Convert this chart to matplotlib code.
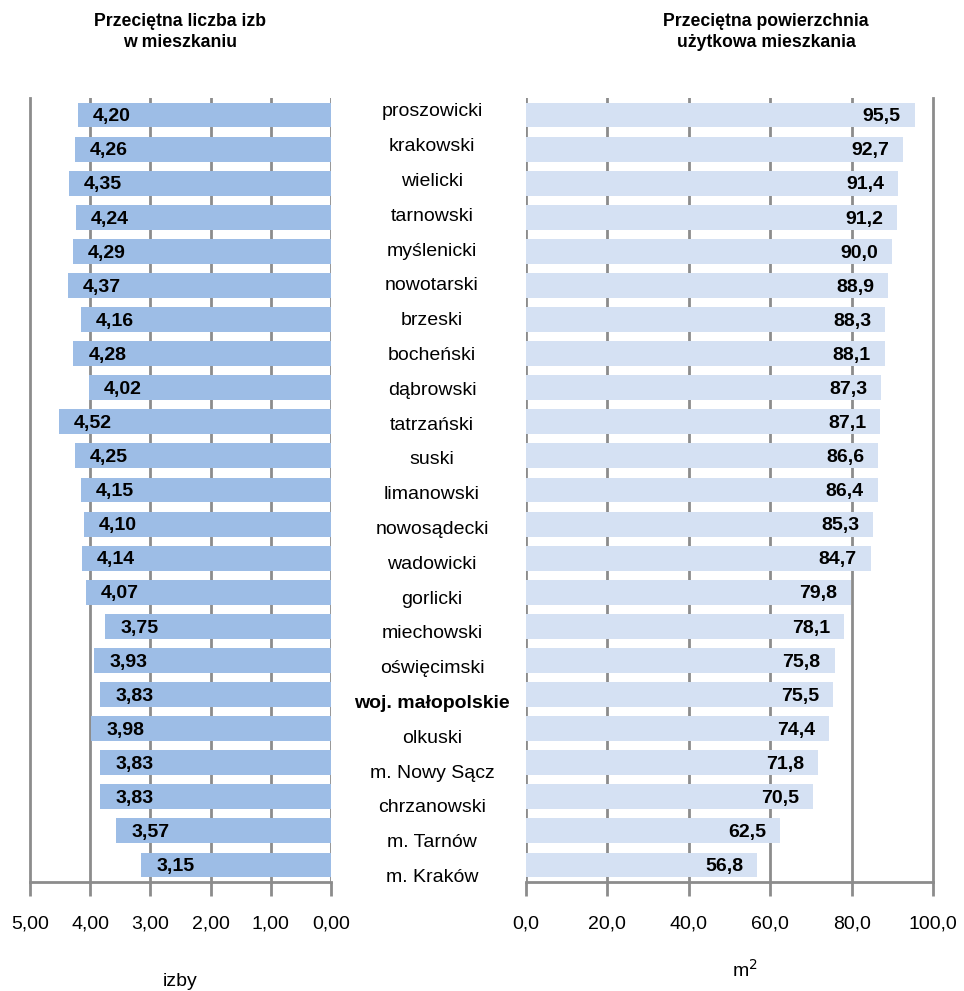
import matplotlib
matplotlib.use('Agg')
import matplotlib.pyplot as plt
import numpy as np

plt.rcParams['font.family'] = ['Liberation Sans', 'DejaVu Sans']

powiaty = ["proszowicki", "krakowski", "wielicki", "tarnowski", "myślenicki",
           "nowotarski", "brzeski", "bocheński", "dąbrowski", "tatrzański",
           "suski", "limanowski", "nowosądecki", "wadowicki", "gorlicki",
           "miechowski", "oświęcimski", "woj. małopolskie", "olkuski",
           "m. Nowy Sącz", "chrzanowski", "m. Tarnów", "m. Kraków"]
izby = [4.20, 4.26, 4.35, 4.24, 4.29, 4.37, 4.16, 4.28, 4.02, 4.52, 4.25, 4.15,
        4.10, 4.14, 4.07, 3.75, 3.93, 3.83, 3.98, 3.83, 3.83, 3.57, 3.15]
powierzchnia = [95.5, 92.7, 91.4, 91.2, 90.0, 88.9, 88.3, 88.1, 87.3, 87.1, 86.6,
                86.4, 85.3, 84.7, 79.8, 78.1, 75.8, 75.5, 74.4, 71.8, 70.5, 62.5, 56.8]
izby_ticks = [5, 4, 3, 2, 1, 0]
pow_ticks = [0, 20, 40, 60, 80, 100]

W, H = 964, 991
fig = plt.figure(figsize=(W / 100, H / 100), dpi=100)

def px_axes(x0, x1, y0, y1):
    return fig.add_axes([x0 / W, 1 - y1 / H, (x1 - x0) / W, (y1 - y0) / H])

grid_c = '#8c8c8c'
n = len(powiaty)
pos = np.arange(n)
fs = 14

ax1 = px_axes(30, 331, 98, 882)
ax2 = px_axes(526, 933, 98, 882)

# left: rooms
ax1.barh(pos, izby, height=0.73, color='#9dbde6', zorder=2)
ax1.set_xlim(5, 0)
ax1.set_xticks(izby_ticks)
ax1.set_xticklabels([f"{t:.2f}".replace('.', ',') for t in izby_ticks])
for i, v in enumerate(izby):
    ax1.text(v - 0.25, i + 0.05, f"{v:.2f}".replace('.', ','), ha='left', va='center',
             fontsize=fs, fontweight='bold', zorder=3)

# right: floor area
ax2.barh(pos, powierzchnia, height=0.73, color='#d5e1f3', zorder=2)
ax2.set_xlim(0, 100)
ax2.set_xticks(pow_ticks)
ax2.set_xticklabels([f"{t:.1f}".replace('.', ',') for t in pow_ticks])
for i, v in enumerate(powierzchnia):
    ax2.text(v - 3.4, i + 0.05, f"{v:.1f}".replace('.', ','), ha='right', va='center',
             fontsize=fs, fontweight='bold', zorder=3)

for ax in (ax1, ax2):
    ax.set_ylim(n - 0.5, -0.5)
    for s in ['top', 'left', 'right']:
        ax.spines[s].set_visible(False)
    ax.spines['bottom'].set_color(grid_c)
    ax.spines['bottom'].set_linewidth(2)
    ax.set_yticks([])
    ax.tick_params(axis='x', direction='out', length=10, width=2, color=grid_c,
                   pad=14, labelsize=fs)
    ax.set_axisbelow(True)
    ax.grid(axis='x', color=grid_c, linewidth=2)

# outer gridlines (5,00 and 100,0) must not be half clipped
ax1.get_xgridlines()[0].set_clip_on(False)
ax2.get_xgridlines()[-1].set_clip_on(False)

# category names in the middle
for i, name in enumerate(powiaty):
    y = 112 + i * 34.8
    fig.text(432 / W, 1 - y / H, name, ha='center', va='center', fontsize=fs,
             fontweight='bold' if name.startswith('woj.') else 'normal')

fig.text(180 / W, 1 - 32 / H, "Przeciętna liczba izb\nw mieszkaniu", ha='center',
         va='center', fontsize=12.7, fontweight='bold', linespacing=1.3)
fig.text(766 / W, 1 - 32 / H, "Przeciętna powierzchnia\nużytkowa mieszkania", ha='center',
         va='center', fontsize=12.7, fontweight='bold', linespacing=1.3)
fig.text(180 / W, 1 - 982 / H, "izby", ha='center', va='center', fontsize=fs)
fig.text(745 / W, 1 - 970 / H, "m$^2$", ha='center', va='center', fontsize=fs)

fig.savefig('out.png', dpi=100, facecolor='white')
plt.close(fig)
